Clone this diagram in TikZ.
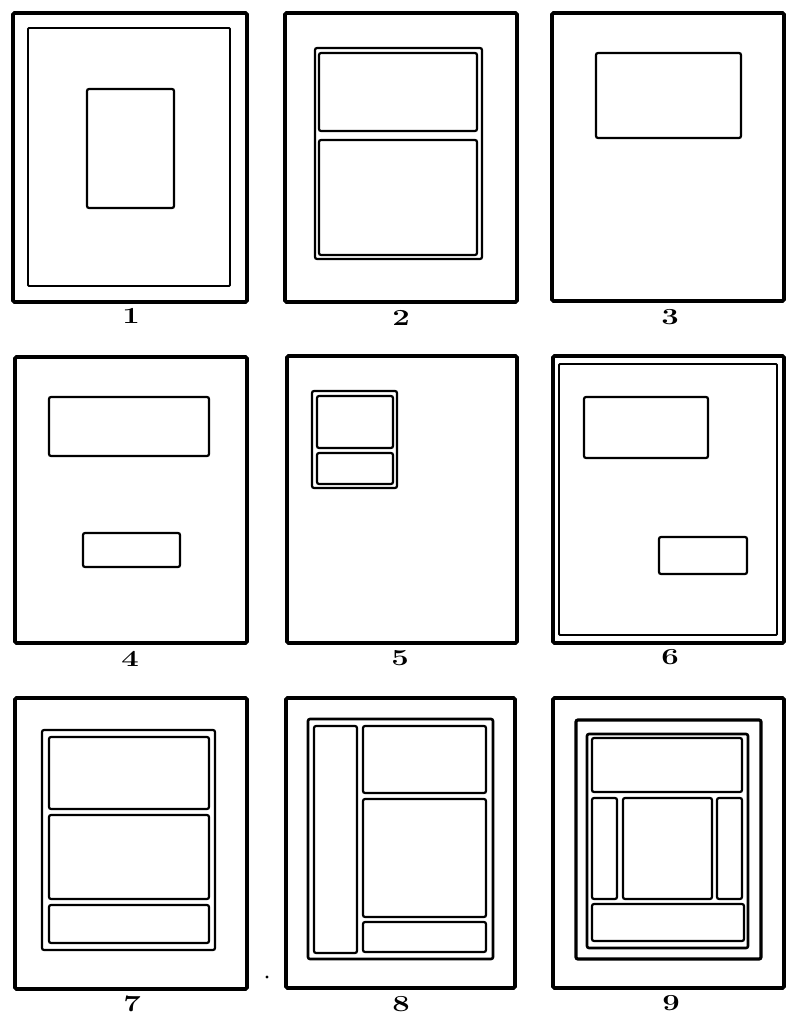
\documentclass[tikz,border=0pt]{standalone}
\begin{document}
\begin{tikzpicture}[x=1pt,y=-1pt,
  frame/.style={line width=3.8pt,rounded corners=1.5pt},
  thinframe/.style={line width=1.8pt,rounded corners=1pt},
  panel/.style={line width=2.2pt,rounded corners=2pt},
  num/.style={font=\fontsize{23}{23}\selectfont\bfseries,xscale=1.35,inner sep=0pt}]
\useasboundingbox (0,0) rectangle (800,1021);
% ---------- 1 ----------
\draw[frame] (13,13) rectangle (247,302);
\draw[thinframe] (28,28) rectangle (230,286);
\draw[panel] (87,89) rectangle (174,208);
\node[num] (n1) at (131,316) {1};
% ---------- 2 ----------
\draw[frame] (285,13) rectangle (517,302);
\draw[panel] (315,48) rectangle (482,259);
\draw[panel] (319,53) rectangle (477,131);
\draw[panel] (319,140) rectangle (477,255);
\node[num] (n2) at (401,318) {2};
% ---------- 3 ----------
\draw[frame] (552,13) rectangle (784,301);
\draw[panel] (596,53) rectangle (741,138);
\node[num] (n3) at (670,317) {3};
% ---------- 4 ----------
\draw[frame] (15,357) rectangle (247,643);
\draw[panel] (49,397) rectangle (209,456);
\draw[panel] (83,533) rectangle (180,567);
\node[num] (n4) at (130,659) {4};
% ---------- 5 ----------
\draw[frame] (287,356) rectangle (517,643);
\draw[panel] (312,391) rectangle (397,488);
\draw[panel] (317,396) rectangle (393,448);
\draw[panel] (317,453) rectangle (393,484);
\node[num] (n5) at (400,658) {5};
% ---------- 6 ----------
\draw[frame] (553,356) rectangle (784,643);
\draw[thinframe] (559,364) rectangle (777,635);
\draw[panel] (584,397) rectangle (708,458);
\draw[panel] (659,537) rectangle (747,574);
\node[num] (n6) at (670,657) {6};
% ---------- 7 ----------
\draw[frame] (15,698) rectangle (247,989);
\draw[panel] (42,730) rectangle (215,950);
\draw[panel] (49,737) rectangle (209,809);
\draw[panel] (49,815) rectangle (209,899);
\draw[panel] (49,905) rectangle (209,943);
\node[num] (n7) at (132,1004) {7};
\fill (267,977) circle (1.6);
% ---------- 8 ----------
\draw[frame] (286,698) rectangle (515,988);
\draw[panel,line width=2.6pt] (308,719) rectangle (493,959);
\draw[panel] (314,726) rectangle (357,953);
\draw[panel] (363,726) rectangle (486,793);
\draw[panel] (363,799) rectangle (486,917);
\draw[panel] (363,922) rectangle (486,952);
\node[num] (n8) at (401,1004) {8};
% ---------- 9 ----------
\draw[frame] (553,698) rectangle (784,988);
\draw[panel,line width=3.2pt] (576,720) rectangle (761,959);
\draw[panel,line width=2.6pt] (587,734) rectangle (748,948);
\draw[panel] (592,738) rectangle (742,792);
\draw[panel] (592,798) rectangle (617,899);
\draw[panel] (623,798) rectangle (712,899);
\draw[panel] (717,798) rectangle (742,899);
\draw[panel] (592,904) rectangle (744,941);
\node[num] (n9) at (671,1003) {9};
\end{tikzpicture}
\end{document}
